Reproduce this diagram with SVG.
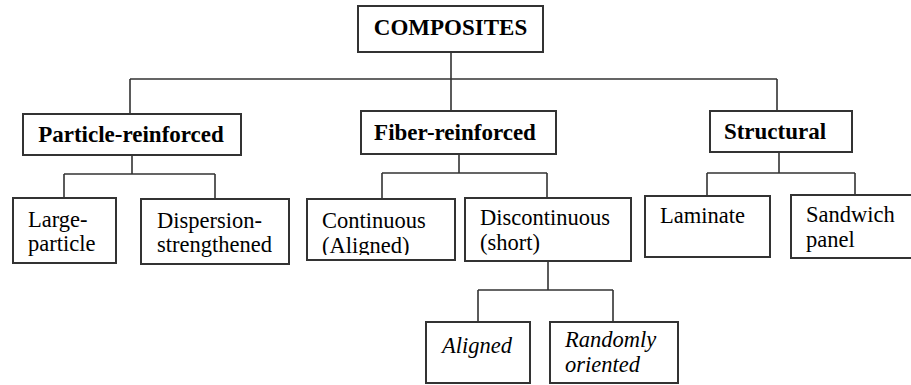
<svg xmlns="http://www.w3.org/2000/svg" width="911" height="385" viewBox="0 0 911 385">
<style>
.box{fill:#fff;stroke:#333;stroke-width:2}
.ln{fill:none;stroke:#333;stroke-width:1.6}
text{font-family:'Liberation Serif','Times New Roman','DejaVu Serif',serif;font-size:22.5px;fill:#000}
.b{font-weight:bold;font-size:23px}
.i{font-style:italic}
</style>
<defs>
<clipPath id="clipCont"><rect x="307" y="199" width="148" height="56"/></clipPath>
</defs>
<rect width="911" height="385" fill="#fff"/>
<g id="connectors">
<path class="ln" d="M451 52V79M130 79H777M130 79V114M451 79V111M777 79V111"/>
<path class="ln" d="M132 156V174M64 174H215M64 174V198M215 174V199"/>
<path class="ln" d="M459 154V173M382 173H547M382 173V199M547 173V198"/>
<path class="ln" d="M779 152V173M707 173H855M707 173V196M855 173V195"/>
<path class="ln" d="M548 261V290M478 290H613M478 290V322M613 290V322"/>
</g>
<g id="composites">
<rect class="box" x="358" y="6" width="185" height="46"/>
<text class="b" x="450.5" y="35" text-anchor="middle">COMPOSITES</text>
</g>
<g id="particle">
<rect class="box" x="23" y="114" width="218" height="41"/>
<text class="b" x="131" y="142" text-anchor="middle">Particle-reinforced</text>
</g>
<g id="fiber">
<rect class="box" x="361" y="111" width="195" height="43"/>
<text class="b" x="455" y="140" text-anchor="middle">Fiber-reinforced</text>
</g>
<g id="structural">
<rect class="box" x="710" y="111" width="142" height="41"/>
<text class="b" x="775" y="139" text-anchor="middle">Structural</text>
</g>
<g id="large">
<rect class="box" x="13" y="198" width="103" height="65"/>
<text x="28" y="227">Large-</text>
<text x="28" y="251">particle</text>
</g>
<g id="dispersion">
<rect class="box" x="141" y="199" width="148" height="65"/>
<text x="157" y="228">Dispersion-</text>
<text x="157" y="252">strengthened</text>
</g>
<g id="continuous">
<rect class="box" x="307" y="199" width="148" height="61"/>
<text x="322" y="228">Continuous</text>
<text x="322" y="253" clip-path="url(#clipCont)">(Aligned)</text>
</g>
<g id="discontinuous">
<rect class="box" x="465" y="198" width="166" height="63"/>
<text x="480" y="225">Discontinuous</text>
<text x="480" y="250">(short)</text>
</g>
<g id="laminate">
<rect class="box" x="645" y="196" width="125" height="61"/>
<text x="660" y="223">Laminate</text>
</g>
<g id="sandwich">
<rect class="box" x="791" y="195" width="125" height="63"/>
<text x="806" y="222">Sandwich</text>
<text x="806" y="247">panel</text>
</g>
<g id="aligned">
<rect class="box" x="426" y="322" width="104" height="61"/>
<text class="i" x="442" y="353">Aligned</text>
</g>
<g id="random">
<rect class="box" x="550" y="322" width="128" height="61"/>
<text class="i" x="565" y="347">Randomly</text>
<text class="i" x="565" y="372">oriented</text>
</g>
</svg>
